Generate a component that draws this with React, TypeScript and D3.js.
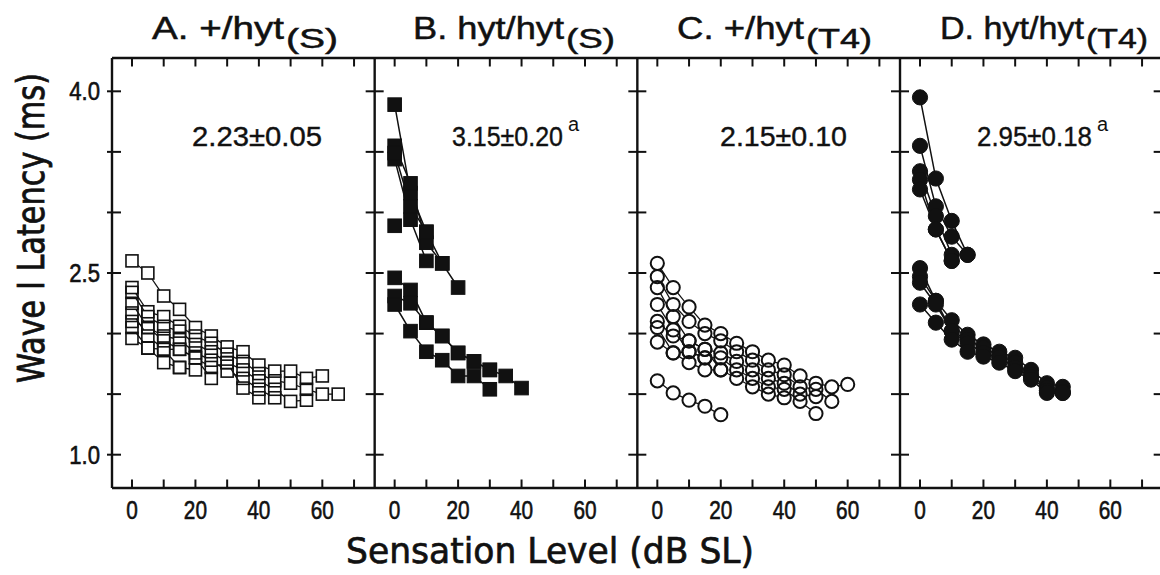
import React, { useLayoutEffect, useRef, useState } from 'react';
import * as d3 from 'd3';

// ---------- DATA ----------
const slLevels = [0, 5, 10, 15, 20, 25, 30, 35, 40, 45, 50, 55, 60, 65];

const panelA_series: number[][] = [
  [2.60, 2.50, 2.31, 2.20, 2.05, 1.98, 1.89, 1.85, 1.74, 1.69, 1.69, 1.63, 1.65],
  [2.38, 2.18, 2.14, 2.06, 1.98, 1.92, 1.83, 1.77, 1.67, 1.61, 1.59, 1.54, 1.50, 1.50],
  [2.34, 2.14, 2.06, 2.02, 1.91, 1.85, 1.76, 1.70, 1.61, 1.54, 1.44, 1.45],
  [2.25, 2.05, 1.98, 1.95, 1.84, 1.78, 1.69, 1.63, 1.54, 1.47],
  [2.17, 1.98, 1.87, 1.87, 1.80, 1.72, 1.76, 1.55, 1.47],
  [2.10, 2.05, 1.94, 1.87, 1.80, 1.63],
  [2.05, 1.88, 1.76, 1.72, 1.70],
  [1.96, 1.88, 1.87, 1.72],
];

const panelB_series: number[][] = [
  [3.89, 3.16, 2.84, 2.58, 2.38],
  [3.55, 3.24, 2.75, 2.58],
  [3.44, 2.94, 2.60],
  [3.49, 3.05, 2.84],
  [2.89],
  [2.46, 2.36, 2.09, 1.98, 1.84, 1.77, 1.70, 1.65, 1.55],
  [2.31, 2.25, 2.09, 1.98, 1.84, 1.77, 1.70],
  [2.24, 2.02, 1.85, 1.78, 1.65, 1.65, 1.54],
];

const panelC_series: number[][] = [
  [2.58, 2.38, 2.22, 2.07, 2.00, 1.92, 1.85, 1.78, 1.74, 1.65, 1.59, 1.56, 1.58],
  [2.47, 2.24, 2.10, 2.00, 1.94, 1.85, 1.78, 1.70, 1.66, 1.56, 1.54, 1.44],
  [2.38, 2.14, 1.94, 1.87, 1.84, 1.77, 1.70, 1.63, 1.59, 1.50, 1.48],
  [2.24, 2.03, 1.85, 1.80, 1.80, 1.70, 1.63, 1.56, 1.54, 1.44, 1.34],
  [2.10, 1.98, 1.94, 1.87, 1.70, 1.63, 1.56, 1.50, 1.47],
  [2.05, 1.84, 1.76, 1.70, 1.70],
  [1.93, 1.84, 1.85, 1.80],
  [1.61, 1.51, 1.45, 1.40, 1.33],
];

const panelD_series: number[][] = [
  [3.95, 3.28, 2.93, 2.65],
  [3.55, 3.05, 2.80, 2.65],
  [3.34, 2.97, 2.65],
  [3.27, 2.86, 2.60],
  [3.19, 2.86, 2.60],
  [2.54, 2.27, 2.11, 1.99, 1.91, 1.85, 1.80, 1.70, 1.59, 1.56],
  [2.47, 2.27, 2.02, 1.95, 1.88, 1.82, 1.76, 1.66, 1.55, 1.52],
  [2.42, 2.24, 2.02, 1.92, 1.84, 1.80, 1.72, 1.64, 1.53, 1.51],
  [2.24, 2.09, 1.95, 1.85, 1.81, 1.76, 1.69, 1.62, 1.51, 1.51],
];

const panelTitleMain = ['A. +/hyt', 'B. hyt/hyt', 'C. +/hyt', 'D. hyt/hyt'];
const panelTitleSub = ['(S)', '(S)', '(T4)', '(T4)'];
const thresholdMeans = ['2.23±0.05', '3.15±0.20', '2.15±0.10', '2.95±0.18'];
const meanSuperscripts = ['', 'a', '', 'a'];
const markerKinds = ['squareOpen', 'squareFilled', 'circleOpen', 'circleFilled'];

const yTickValues = [1.0, 1.5, 2.0, 2.5, 3.0, 3.5, 4.0];
const yTickLabelValues = [1.0, 2.5, 4.0];
const xTickValues = [0, 10, 20, 30, 40, 50, 60, 70];
const xTickLabelValues = [0, 20, 40, 60];

const yAxisTitle = 'Wave I Latency (ms)';
const xAxisTitle = 'Sensation Level (dB SL)';

// ---------- LAYOUT ----------
const W = 1160, H = 575;
const frameTop = 58, frameBottom = 488;
const panelLeft0 = 112, panelWidth = 262.67;
const xDomain = [-6.3, 76.5];
const yDomain = [0.725, 4.275];

// title geometry [mainStart, mainWidth, subStart, subWidth]
const titleGeom = [
  [152, 132, 286, 52],
  [413, 151, 566, 49],
  [677, 127, 806, 66],
  [940, 144, 1086, 62],
];
// annotation geometry [start, width]
const annGeom = [
  [192, 130],
  [452, 111],
  [720, 127],
  [977, 115],
];

const FONT = "'Liberation Sans', Arial, Helvetica, sans-serif";
const ROUND = "'DejaVu Sans', Verdana, sans-serif";
const INK = '#111';

function trimmedSegment(x1: number, y1: number, x2: number, y2: number, kind: string, r: number) {
  const dx = x2 - x1, dy = y2 - y1;
  const len = Math.hypot(dx, dy);
  if (len === 0) return null;
  const ux = dx / len, uy = dy / len;
  let t = r;
  if (kind.startsWith('square')) t = r / Math.max(Math.abs(ux), Math.abs(uy));
  if (len <= 2 * t) return null;
  return [x1 + ux * t, y1 + uy * t, x2 - ux * t, y2 - uy * t];
}

// text squeezed horizontally (via transform) to a target width
function FitText(props: { x: number; y: number; width: number; fontSize: number; text: string; strokeWidth?: number }) {
  const ref = useRef<SVGTextElement>(null);
  const [sx, setSx] = useState(1);
  useLayoutEffect(() => {
    if (ref.current) {
      const len = ref.current.getComputedTextLength();
      if (len > 0) setSx(props.width / len);
    }
  }, [props.width, props.text, props.fontSize]);
  return (
    <g transform={`translate(${props.x},${props.y}) scale(${sx},1)`}>
      <text ref={ref} x={0} y={0} fontFamily={FONT} fontSize={props.fontSize} fill={INK}
        stroke={INK} strokeWidth={props.strokeWidth ?? 0.4}>{props.text}</text>
    </g>
  );
}

export default function App() {
  const y = d3.scaleLinear().domain(yDomain).range([frameBottom, frameTop]);
  const allSeries = [panelA_series, panelB_series, panelC_series, panelD_series];

  const panels = allSeries.map((series, pi) => {
    const left = panelLeft0 + pi * panelWidth;
    const x = d3.scaleLinear().domain(xDomain).range([left, left + panelWidth]);
    const kind = markerKinds[pi];
    const open = kind.endsWith('Open');
    const isSquare = kind.startsWith('square');
    const r = isSquare ? (open ? 6.0 : 6.8) : (open ? 6.6 : 7.6);
    const line = d3.line<number>().x((_, i) => x(slLevels[i])).y((v) => y(v));

    const lines: JSX.Element[] = [];
    series.forEach((s, si) => {
      if (open) {
        for (let i = 0; i < s.length - 1; i++) {
          const seg = trimmedSegment(x(slLevels[i]), y(s[i]), x(slLevels[i + 1]), y(s[i + 1]), kind, r);
          if (seg) lines.push(<line key={`l${si}-${i}`} x1={seg[0]} y1={seg[1]} x2={seg[2]} y2={seg[3]} stroke={INK} strokeWidth={1.3} />);
        }
      } else {
        lines.push(<path key={`l${si}`} d={line(s) || ''} fill="none" stroke={INK} strokeWidth={1.5} />);
      }
    });

    const marks: JSX.Element[] = [];
    series.forEach((s, si) => {
      s.forEach((v, i) => {
        const cx = x(slLevels[i]), cy = y(v);
        const key = `m${si}-${i}`;
        if (isSquare) {
          marks.push(<rect key={key} x={cx - r} y={cy - r} width={2 * r} height={2 * r}
            fill={open ? 'none' : INK} stroke={INK} strokeWidth={open ? 1.6 : 1} />);
        } else {
          marks.push(<circle key={key} cx={cx} cy={cy} r={r}
            fill={open ? 'none' : INK} stroke={INK} strokeWidth={open ? 2 : 1} />);
        }
      });
    });

    const tg = titleGeom[pi];
    const ag = annGeom[pi];

    return (
      <g key={pi}>
        {xTickValues.map((t) => (
          <g key={`xt${t}`}>
            <line x1={x(t)} x2={x(t)} y1={frameTop} y2={frameTop + 8.5} stroke={INK} strokeWidth={2} />
            <line x1={x(t)} x2={x(t)} y1={frameBottom} y2={frameBottom - 8.5} stroke={INK} strokeWidth={2} />
          </g>
        ))}
        {xTickLabelValues.map((t) => (
          <g key={`xl${t}`} transform={`translate(${x(t)},${519}) scale(0.8,1)`}>
            <text textAnchor="middle" fontFamily={FONT} fontSize={26} fill={INK} stroke={INK} strokeWidth={0.6}>{t}</text>
          </g>
        ))}
        {lines}
        {marks}
        <text x={tg[0]} y={39} fontFamily={FONT} fontSize={31} fill={INK} stroke={INK} strokeWidth={0.5}
          textLength={tg[1]} lengthAdjust="spacingAndGlyphs">{panelTitleMain[pi]}</text>
        <text x={tg[2]} y={48} fontFamily={FONT} fontSize={27} fill={INK} stroke={INK} strokeWidth={0.5}
          textLength={tg[3]} lengthAdjust="spacingAndGlyphs">{panelTitleSub[pi]}</text>
        <FitText x={ag[0]} y={146} width={ag[1]} fontSize={28} text={thresholdMeans[pi]} />
        {meanSuperscripts[pi] && (
          <text x={ag[0] + ag[1] + 5} y={131} fontFamily={FONT} fontSize={20} fill={INK}>{meanSuperscripts[pi]}</text>
        )}
      </g>
    );
  });

  const borders = [0, 1, 2, 3, 4].map((bi) => panelLeft0 + bi * panelWidth);

  return (
    <svg width={W} height={H} style={{ position: 'absolute', left: 0, top: 0, background: '#fff' }}>
      <rect x={0} y={0} width={W} height={H} fill="#fff" />
      {panels}
      <line x1={panelLeft0} x2={panelLeft0 + 4 * panelWidth} y1={frameTop} y2={frameTop} stroke={INK} strokeWidth={2.4} />
      <line x1={panelLeft0} x2={panelLeft0 + 4 * panelWidth} y1={frameBottom} y2={frameBottom} stroke={INK} strokeWidth={2.4} />
      {borders.map((bx, bi) => (
        <g key={`b${bi}`}>
          <line x1={bx} x2={bx} y1={frameTop} y2={frameBottom} stroke={INK} strokeWidth={2.4} />
          {yTickValues.map((t) => (
            <line key={t} x1={bi === 0 ? bx - 5 : bx - 9} x2={bi === 4 ? bx : bx + 9} y1={y(t)} y2={y(t)} stroke={INK} strokeWidth={2} />
          ))}
        </g>
      ))}
      {yTickLabelValues.map((t) => (
        <g key={`yl${t}`} transform={`translate(${100},${y(t) + 9}) scale(0.85,1)`}>
          <text textAnchor="end" fontFamily={FONT} fontSize={26} fill={INK} stroke={INK} strokeWidth={0.6}>{t.toFixed(1)}</text>
        </g>
      ))}
      <text transform={`translate(44,228) rotate(-90)`} textAnchor="middle" fontFamily={ROUND} fontSize={37} fill={INK}
        stroke={INK} strokeWidth={0.8} textLength={310} lengthAdjust="spacingAndGlyphs">{yAxisTitle}</text>
      <text x={550} y={563} textAnchor="middle" fontFamily={ROUND} fontSize={36} fill={INK}
        stroke={INK} strokeWidth={0.7} textLength={408} lengthAdjust="spacingAndGlyphs">{xAxisTitle}</text>
    </svg>
  );
}
